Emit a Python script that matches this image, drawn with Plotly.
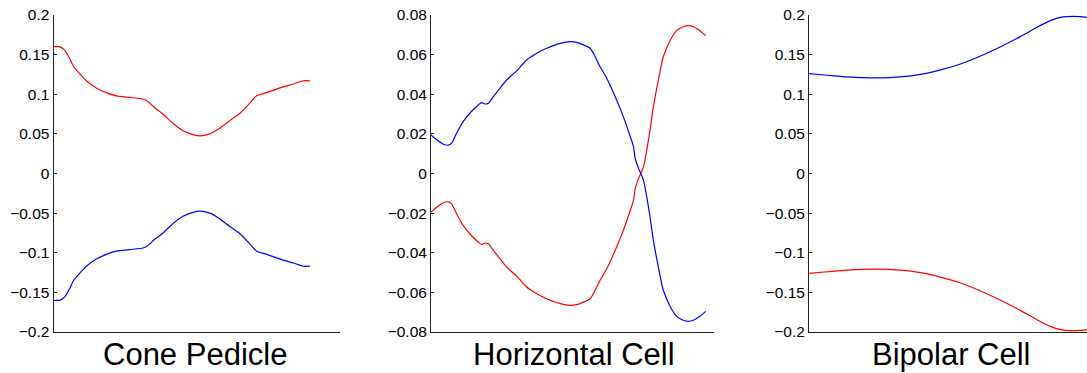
import plotly.graph_objects as go

W, H = 1087, 373

# ---- Cone Pedicle ----
cone_x = [0, 0.023, 0.043, 0.063, 0.078, 0.102, 0.128, 0.167, 0.206, 0.245, 0.297, 0.349,
          0.368, 0.391, 0.427, 0.466, 0.505, 0.544, 0.570, 0.609, 0.648, 0.688, 0.727,
          0.760, 0.779, 0.792, 0.831, 0.883, 0.935, 0.974, 1.0]
cone_red = [0.160, 0.160, 0.156, 0.145, 0.135, 0.126, 0.117, 0.108, 0.102, 0.098, 0.096, 0.094,
            0.091, 0.084, 0.075, 0.063, 0.054, 0.049, 0.0475, 0.050, 0.057, 0.067, 0.076,
            0.087, 0.094, 0.098, 0.102, 0.108, 0.113, 0.117, 0.117]
cone_blue = [-0.160, -0.160, -0.156, -0.145, -0.135, -0.126, -0.117, -0.108, -0.102, -0.098, -0.096, -0.094,
             -0.091, -0.084, -0.075, -0.063, -0.054, -0.049, -0.0475, -0.050, -0.057, -0.067, -0.076,
             -0.087, -0.094, -0.098, -0.102, -0.108, -0.113, -0.117, -0.117]

# ---- Horizontal Cell ----
horiz_x = [0, 0.021, 0.045, 0.063, 0.075, 0.093, 0.117, 0.147, 0.172, 0.184, 0.196, 0.209,
           0.227, 0.251, 0.275, 0.312, 0.348, 0.385, 0.421, 0.470, 0.506, 0.530, 0.555,
           0.579, 0.591, 0.615, 0.640, 0.676, 0.700, 0.725, 0.737, 0.743, 0.755, 0.773,
           0.785, 0.797, 0.809, 0.827, 0.845, 0.870, 0.894, 0.918, 0.936, 0.955, 0.979, 1.0]
horiz_blue = [0.0195, 0.017, 0.0148, 0.0143, 0.0153, 0.0203, 0.0262, 0.0313, 0.0346, 0.0358, 0.0351, 0.0355,
              0.0388, 0.043, 0.0472, 0.0518, 0.0573, 0.0607, 0.0632, 0.0657, 0.0666, 0.0662, 0.0649,
              0.0632, 0.0607, 0.054, 0.048, 0.037, 0.0287, 0.0187, 0.0136, 0.0077, 0.0027, -0.0032,
              -0.0116, -0.0217, -0.0334, -0.0469, -0.0587, -0.067, -0.0721, -0.0741, -0.0746, -0.0741, -0.0721, -0.0696]
horiz_red = [-0.0195, -0.017, -0.0148, -0.0143, -0.0153, -0.0203, -0.0262, -0.0313, -0.0346, -0.0358, -0.0351, -0.0355,
             -0.0388, -0.043, -0.0472, -0.0518, -0.0573, -0.0607, -0.0632, -0.0657, -0.0666, -0.0662, -0.0649,
             -0.0632, -0.0607, -0.054, -0.048, -0.037, -0.0287, -0.0187, -0.0136, -0.0077, -0.0027, 0.0032,
             0.0116, 0.0217, 0.0334, 0.0469, 0.0587, 0.067, 0.0721, 0.0741, 0.0746, 0.0741, 0.0721, 0.0696]

# ---- Bipolar Cell ----
bip_x = [0, 0.066, 0.138, 0.246, 0.329, 0.401, 0.473, 0.545, 0.617, 0.689, 0.760, 0.820,
         0.868, 0.904, 0.928, 0.976, 1.0]
bip_blue = [0.126, 0.124, 0.1218, 0.1206, 0.1218, 0.125, 0.1307, 0.1382, 0.1483, 0.160, 0.1727, 0.1845,
            0.1929, 0.1971, 0.198, 0.198, 0.197]
bip_red = [-0.126, -0.124, -0.1218, -0.1206, -0.1218, -0.125, -0.1307, -0.1382, -0.1483, -0.160, -0.1727, -0.1845,
           -0.1929, -0.1971, -0.198, -0.198, -0.197]

ticks_02 = [0.2, 0.15, 0.1, 0.05, 0, -0.05, -0.1, -0.15, -0.2]
labels_02 = ["0.2", "0.15", "0.1", "0.05", "0", "\u22120.05", "\u22120.1", "\u22120.15", "\u22120.2"]
ticks_008 = [0.08, 0.06, 0.04, 0.02, 0, -0.02, -0.04, -0.06, -0.08]
labels_008 = ["0.08", "0.06", "0.04", "0.02", "0", "\u22120.02", "\u22120.04", "\u22120.06", "\u22120.08"]

titles = ["Cone Pedicle", "Horizontal Cell", "Bipolar Cell"]

# pixel layout of the three axes boxes
left_px = [53.5, 431, 809]
right_px = [340, 714, 1087]
title_center_px = [195, 574, 951]
top_px, bottom_px = 15, 332
x_max = [1.117, 1.030, 1.0]

panels = [
    (cone_x, cone_red, cone_blue, ticks_02, labels_02, 0.2),
    (horiz_x, horiz_red, horiz_blue, ticks_008, labels_008, 0.08),
    (bip_x, bip_red, bip_blue, ticks_02, labels_02, 0.2),
]

fig = go.Figure()
layout = dict(
    width=W, height=H,
    margin=dict(l=0, r=0, t=0, b=0, autoexpand=False),
    paper_bgcolor="white", plot_bgcolor="white",
    showlegend=False,
    font=dict(family="Liberation Sans, Arial, sans-serif", color="black"),
)

annotations = []
for i, (xs, red, blue, tv, tt, lim) in enumerate(panels):
    n = "" if i == 0 else str(i + 1)
    fig.add_trace(go.Scatter(x=xs, y=red, mode="lines", line=dict(color="#ff0000", width=1.2, shape="spline", smoothing=0.6),
                             xaxis="x" + n, yaxis="y" + n))
    fig.add_trace(go.Scatter(x=xs, y=blue, mode="lines", line=dict(color="#0000ff", width=1.2, shape="spline", smoothing=0.6),
                             xaxis="x" + n, yaxis="y" + n))
    layout["xaxis" + n] = dict(
        domain=[left_px[i] / W, right_px[i] / W], range=[0, x_max[i]],
        showgrid=False, zeroline=False, showticklabels=False, ticks="",
        showline=True, linecolor="#222", linewidth=1, anchor="y" + n,
        automargin=False,
    )
    layout["yaxis" + n] = dict(
        domain=[1 - bottom_px / H, 1 - top_px / H], range=[-lim, lim],
        tickvals=tv, ticktext=tt, ticks="inside", ticklen=3, tickcolor="#222",
        tickfont=dict(size=15.5, color="black"),
        showgrid=False, zeroline=False,
        showline=True, linecolor="#222", linewidth=1, anchor="x" + n,
        automargin=False,
    )
    annotations.append(dict(
        text=titles[i], x=title_center_px[i] / W, y=1 - 364 / H,
        xref="paper", yref="paper", xanchor="center", yanchor="bottom",
        showarrow=False, font=dict(size=31, color="black"),
        yshift=-10,
    ))

layout["annotations"] = annotations
fig.update_layout(**layout)
fig.write_html("out.html")
